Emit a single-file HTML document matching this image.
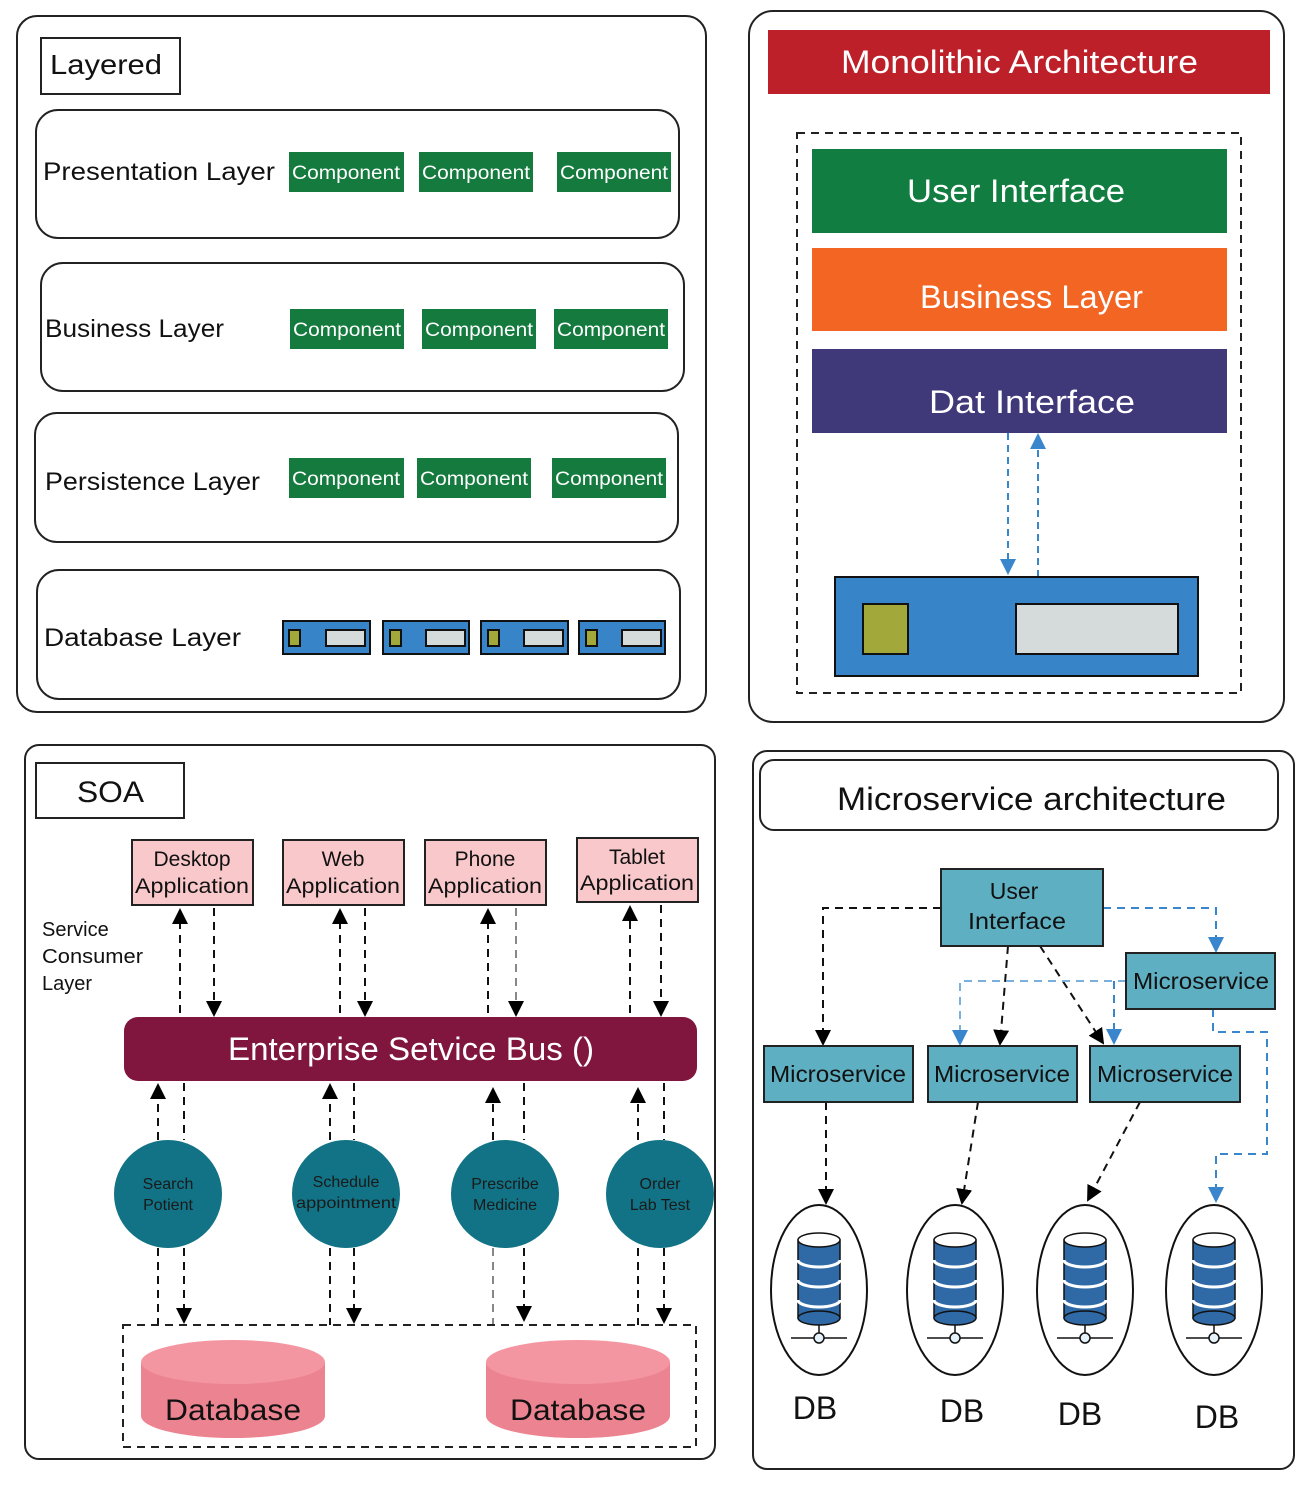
<!DOCTYPE html>
<html><head><meta charset="utf-8"><style>
html,body{margin:0;padding:0;background:#fff}
svg{display:block}
text{font-family:"Liberation Sans",sans-serif}
</style></head><body>
<svg width="1309" height="1499" viewBox="0 0 1309 1499" xmlns="http://www.w3.org/2000/svg">
<defs>
<marker id="ak" markerWidth="16" markerHeight="16" refX="14" refY="8" orient="auto" markerUnits="userSpaceOnUse" viewBox="0 0 16 16"><path d="M0,0 L16,8 L0,16 z" fill="#000"/></marker>
<marker id="abl" markerWidth="16" markerHeight="16" refX="14" refY="8" orient="auto" markerUnits="userSpaceOnUse" viewBox="0 0 16 16"><path d="M0,0 L16,8 L0,16 z" fill="#3a86cc"/></marker>
<g id="dbi">
<rect x="-21" y="-50" width="42" height="78" fill="#2f6aa6" stroke="#111" stroke-width="1.5"/>
<ellipse cx="0" cy="28" rx="21" ry="7" fill="#2f6aa6" stroke="#111" stroke-width="1.5"/>
<path d="M-21,-30 a21,7 0 0 0 42,0 M-21,-10 a21,7 0 0 0 42,0 M-21,10 a21,7 0 0 0 42,0" fill="none" stroke="#fff" stroke-width="3"/>
<ellipse cx="0" cy="-50" rx="21" ry="7" fill="#fff" stroke="#111" stroke-width="1.5"/>
<line x1="0" y1="35" x2="0" y2="45" stroke="#111" stroke-width="1.5"/>
<line x1="-28" y1="48" x2="28" y2="48" stroke="#111" stroke-width="1.5"/>
<circle cx="0" cy="48" r="5" fill="#e6f2fa" stroke="#111" stroke-width="1.5"/>
</g>
</defs>

<!-- PANEL 1 Layered -->
<rect x="17" y="16" width="689" height="696" rx="20" fill="#fff" stroke="#222" stroke-width="2"/>
<rect x="41" y="38" width="139" height="56" fill="#fff" stroke="#222" stroke-width="2"/>
<text x="50" y="74" font-size="28" fill="#111" textLength="112" lengthAdjust="spacingAndGlyphs">Layered</text>
<g fill="#fff" stroke="#222" stroke-width="2">
<rect x="36" y="110" width="643" height="128" rx="22"/>
<rect x="41" y="263" width="643" height="128" rx="22"/>
<rect x="35" y="413" width="643" height="129" rx="22"/>
<rect x="37" y="570" width="643" height="129" rx="22"/>
</g>
<g font-size="25" fill="#111" lengthAdjust="spacingAndGlyphs">
<text x="43" y="180" textLength="232" lengthAdjust="spacingAndGlyphs">Presentation Layer</text>
<text x="45" y="337" textLength="179" lengthAdjust="spacingAndGlyphs">Business Layer</text>
<text x="45" y="490" textLength="215" lengthAdjust="spacingAndGlyphs">Persistence Layer</text>
<text x="44" y="646" textLength="197" lengthAdjust="spacingAndGlyphs">Database Layer</text>
</g>
<g fill="#157a3e">
<rect x="289" y="152" width="115" height="40"/><rect x="419" y="152" width="114" height="40"/><rect x="557" y="152" width="114" height="40"/>
<rect x="290" y="309" width="114" height="40"/><rect x="422" y="309" width="114" height="40"/><rect x="554" y="309" width="114" height="40"/>
<rect x="289" y="458" width="115" height="40"/><rect x="417" y="458" width="114" height="40"/><rect x="552" y="458" width="114" height="40"/>
</g>
<g font-size="19" fill="#fff">
<text x="292" y="179" textLength="108" lengthAdjust="spacingAndGlyphs">Component</text><text x="422" y="179" textLength="108" lengthAdjust="spacingAndGlyphs">Component</text><text x="560" y="179" textLength="108" lengthAdjust="spacingAndGlyphs">Component</text>
<text x="293" y="336" textLength="108" lengthAdjust="spacingAndGlyphs">Component</text><text x="425" y="336" textLength="108" lengthAdjust="spacingAndGlyphs">Component</text><text x="557" y="336" textLength="108" lengthAdjust="spacingAndGlyphs">Component</text>
<text x="292" y="485" textLength="108" lengthAdjust="spacingAndGlyphs">Component</text><text x="420" y="485" textLength="108" lengthAdjust="spacingAndGlyphs">Component</text><text x="555" y="485" textLength="108" lengthAdjust="spacingAndGlyphs">Component</text>
</g>
<g stroke="#111" stroke-width="2">
<rect x="283" y="621" width="87" height="33" fill="#3784c8"/><rect x="289" y="630" width="11" height="16" fill="#a3a83b"/><rect x="326" y="630" width="39" height="16" fill="#d5dbdb"/>
<rect x="383" y="621" width="86" height="33" fill="#3784c8"/><rect x="390" y="630" width="11" height="16" fill="#a3a83b"/><rect x="426" y="630" width="39" height="16" fill="#d5dbdb"/>
<rect x="481" y="621" width="87" height="33" fill="#3784c8"/><rect x="488" y="630" width="11" height="16" fill="#a3a83b"/><rect x="524" y="630" width="39" height="16" fill="#d5dbdb"/>
<rect x="579" y="621" width="86" height="33" fill="#3784c8"/><rect x="586" y="630" width="11" height="16" fill="#a3a83b"/><rect x="622" y="630" width="39" height="16" fill="#d5dbdb"/>
</g>

<!-- PANEL 2 Monolithic -->
<rect x="749" y="11" width="535" height="711" rx="24" fill="#fff" stroke="#222" stroke-width="2"/>
<rect x="768" y="30" width="502" height="64" fill="#bd2029"/>
<text x="841" y="73" font-size="32" fill="#fff" textLength="357" lengthAdjust="spacingAndGlyphs">Monolithic Architecture</text>
<rect x="797" y="133" width="444" height="560" fill="none" stroke="#222" stroke-width="2" stroke-dasharray="8,6"/>
<rect x="812" y="149" width="415" height="84" fill="#127d40"/>
<text x="907" y="202" font-size="32" fill="#fff" textLength="218" lengthAdjust="spacingAndGlyphs">User Interface</text>
<rect x="812" y="248" width="415" height="83" fill="#f26522"/>
<text x="920" y="308" font-size="32" fill="#fff" textLength="223" lengthAdjust="spacingAndGlyphs">Business Layer</text>
<rect x="812" y="349" width="415" height="84" fill="#3f3879"/>
<text x="929" y="413" font-size="32" fill="#fff" textLength="206" lengthAdjust="spacingAndGlyphs">Dat Interface</text>
<g stroke="#3a86cc" stroke-width="2" stroke-dasharray="7,5" fill="none">
<line x1="1008" y1="433" x2="1008" y2="573" marker-end="url(#abl)"/>
<line x1="1038" y1="577" x2="1038" y2="435" marker-end="url(#abl)"/>
</g>
<rect x="835" y="577" width="363" height="99" fill="#3784c8" stroke="#111" stroke-width="2"/>
<rect x="863" y="604" width="45" height="50" fill="#a3a83b" stroke="#111" stroke-width="2"/>
<rect x="1016" y="604" width="162" height="50" fill="#d5dbdb" stroke="#111" stroke-width="2"/>

<!-- PANEL 3 SOA -->
<rect x="25" y="745" width="690" height="714" rx="14" fill="#fff" stroke="#222" stroke-width="2"/>
<rect x="36" y="763" width="148" height="55" fill="#fff" stroke="#222" stroke-width="2"/>
<text x="77" y="802" font-size="30" fill="#111" textLength="67" lengthAdjust="spacingAndGlyphs">SOA</text>
<g fill="#f9c8cb" stroke="#222" stroke-width="2">
<rect x="132" y="840" width="121" height="65"/><rect x="283" y="840" width="121" height="65"/>
<rect x="425" y="840" width="121" height="65"/><rect x="577" y="838" width="121" height="64"/>
</g>
<g font-size="21" fill="#111" text-anchor="middle">
<text x="192" y="866">Desktop</text><text x="192" y="893" textLength="114" lengthAdjust="spacingAndGlyphs">Application</text>
<text x="343" y="866">Web</text><text x="343" y="893" textLength="114" lengthAdjust="spacingAndGlyphs">Application</text>
<text x="485" y="866">Phone</text><text x="485" y="893" textLength="114" lengthAdjust="spacingAndGlyphs">Application</text>
<text x="637" y="864">Tablet</text><text x="637" y="890" textLength="114" lengthAdjust="spacingAndGlyphs">Application</text>
</g>
<g font-size="20" fill="#111">
<text x="42" y="936">Service</text><text x="42" y="963" textLength="101" lengthAdjust="spacingAndGlyphs">Consumer</text><text x="42" y="990">Layer</text>
</g>
<g stroke="#111" stroke-width="2" stroke-dasharray="8,6" fill="none">
<line x1="180" y1="1013" x2="180" y2="910" marker-end="url(#ak)"/>
<line x1="214" y1="908" x2="214" y2="1015" marker-end="url(#ak)"/>
<line x1="340" y1="1013" x2="340" y2="910" marker-end="url(#ak)"/>
<line x1="365" y1="908" x2="365" y2="1015" marker-end="url(#ak)"/>
<line x1="488" y1="1013" x2="488" y2="910" marker-end="url(#ak)"/>
<line x1="516" y1="908" x2="516" y2="1015" marker-end="url(#ak)" stroke="#888"/>
<line x1="630" y1="1013" x2="630" y2="907" marker-end="url(#ak)"/>
<line x1="661" y1="905" x2="661" y2="1015" marker-end="url(#ak)"/>
</g>
<rect x="124" y="1017" width="573" height="64" rx="14" fill="#80153e"/>
<text x="228" y="1060" font-size="32" fill="#fff" textLength="366" lengthAdjust="spacingAndGlyphs">Enterprise Setvice Bus ()</text>
<g stroke="#111" stroke-width="2" stroke-dasharray="8,6" fill="none">
<line x1="158" y1="1140" x2="158" y2="1085" marker-end="url(#ak)"/>
<line x1="184" y1="1083" x2="184" y2="1140"/>
<line x1="330" y1="1140" x2="330" y2="1085" marker-end="url(#ak)"/>
<line x1="354" y1="1083" x2="354" y2="1140"/>
<line x1="493" y1="1140" x2="493" y2="1089" marker-end="url(#ak)"/>
<line x1="524" y1="1083" x2="524" y2="1140"/>
<line x1="638" y1="1140" x2="638" y2="1089" marker-end="url(#ak)"/>
<line x1="664" y1="1083" x2="664" y2="1140"/>
<line x1="158" y1="1248" x2="158" y2="1325"/>
<line x1="184" y1="1248" x2="184" y2="1322" marker-end="url(#ak)"/>
<line x1="330" y1="1248" x2="330" y2="1325"/>
<line x1="354" y1="1248" x2="354" y2="1322" marker-end="url(#ak)"/>
<line x1="493" y1="1248" x2="493" y2="1325" stroke="#888"/>
<line x1="524" y1="1248" x2="524" y2="1320" marker-end="url(#ak)"/>
<line x1="638" y1="1248" x2="638" y2="1325"/>
<line x1="664" y1="1248" x2="664" y2="1322" marker-end="url(#ak)"/>
</g>
<g fill="#117385">
<circle cx="168" cy="1194" r="54"/><circle cx="346" cy="1194" r="54"/>
<circle cx="505" cy="1194" r="54"/><circle cx="660" cy="1194" r="54"/>
</g>
<g font-size="16" fill="#1a1a1a" text-anchor="middle">
<text x="168" y="1189">Search</text><text x="168" y="1210">Potient</text>
<text x="346" y="1187">Schedule</text><text x="346" y="1208" textLength="100" lengthAdjust="spacingAndGlyphs">appointment</text>
<text x="505" y="1189">Prescribe</text><text x="505" y="1210">Medicine</text>
<text x="660" y="1189">Order</text><text x="660" y="1210">Lab Test</text>
</g>
<rect x="123" y="1325" width="573" height="122" fill="none" stroke="#222" stroke-width="2" stroke-dasharray="8,6"/>
<g>
<path d="M141,1362 L141,1416 A92,22 0 0 0 325,1416 L325,1362 Z" fill="#ec8390"/>
<ellipse cx="233" cy="1362" rx="92" ry="22" fill="#f496a2"/>
<path d="M486,1362 L486,1416 A92,22 0 0 0 670,1416 L670,1362 Z" fill="#ec8390"/>
<ellipse cx="578" cy="1362" rx="92" ry="22" fill="#f496a2"/>
</g>
<text x="165" y="1420" font-size="30" fill="#111" textLength="136" lengthAdjust="spacingAndGlyphs">Database</text>
<text x="510" y="1420" font-size="30" fill="#111" textLength="136" lengthAdjust="spacingAndGlyphs">Database</text>

<!-- PANEL 4 Microservice -->
<rect x="753" y="751" width="541" height="718" rx="14" fill="#fff" stroke="#222" stroke-width="2"/>
<rect x="760" y="760" width="518" height="70" rx="14" fill="#fff" stroke="#222" stroke-width="2"/>
<text x="837" y="810" font-size="32" fill="#111" textLength="389" lengthAdjust="spacingAndGlyphs">Microservice architecture</text>
<g stroke="#111" stroke-width="2" stroke-dasharray="8,6" fill="none">
<polyline points="941,908 823,908 823,1044" marker-end="url(#ak)"/>
<line x1="1008" y1="946" x2="1000" y2="1044" marker-end="url(#ak)"/>
<line x1="1040" y1="946" x2="1103" y2="1043" marker-end="url(#ak)"/>
<line x1="826" y1="1102" x2="826" y2="1203" marker-end="url(#ak)"/>
<line x1="978" y1="1102" x2="962" y2="1203" marker-end="url(#ak)"/>
<line x1="1140" y1="1102" x2="1088" y2="1200" marker-end="url(#ak)"/>
</g>
<g stroke="#3a86cc" stroke-width="2" stroke-dasharray="8,6" fill="none">
<polyline points="1103,908 1216,908 1216,951" marker-end="url(#abl)"/>
<polyline points="1126,981 960,981 960,1044" marker-end="url(#abl)" stroke="#7ab0dd"/>
<polyline points="1114,981 1114,1043" marker-end="url(#abl)"/>
<polyline points="1213,1009 1213,1032 1267,1032 1267,1154 1216,1154 1216,1201" marker-end="url(#abl)"/>
</g>
<g fill="#5fafc2" stroke="#222" stroke-width="2">
<rect x="941" y="869" width="162" height="77"/>
<rect x="1126" y="953" width="149" height="56"/>
<rect x="764" y="1046" width="149" height="56"/>
<rect x="928" y="1046" width="149" height="56"/>
<rect x="1090" y="1046" width="150" height="56"/>
</g>
<g font-size="23" fill="#111">
<text x="1014" y="899" text-anchor="middle">User</text><text x="968" y="929" textLength="98" lengthAdjust="spacingAndGlyphs">Interface</text>
<text x="1133" y="989" textLength="136" lengthAdjust="spacingAndGlyphs">Microservice</text>
<text x="770" y="1082" textLength="136" lengthAdjust="spacingAndGlyphs">Microservice</text>
<text x="934" y="1082" textLength="136" lengthAdjust="spacingAndGlyphs">Microservice</text>
<text x="1097" y="1082" textLength="136" lengthAdjust="spacingAndGlyphs">Microservice</text>
</g>
<g fill="#fff" stroke="#111" stroke-width="2">
<ellipse cx="819" cy="1290" rx="48" ry="85"/>
<ellipse cx="955" cy="1290" rx="48" ry="85"/>
<ellipse cx="1085" cy="1290" rx="48" ry="85"/>
<ellipse cx="1214" cy="1290" rx="48" ry="85"/>
</g>
<use href="#dbi" x="819" y="1290"/>
<use href="#dbi" x="955" y="1290"/>
<use href="#dbi" x="1085" y="1290"/>
<use href="#dbi" x="1214" y="1290"/>
<g font-size="32" fill="#111" text-anchor="middle">
<text x="815" y="1419">DB</text><text x="962" y="1422">DB</text>
<text x="1080" y="1425">DB</text><text x="1217" y="1428">DB</text>
</g>
</svg>
</body></html>
